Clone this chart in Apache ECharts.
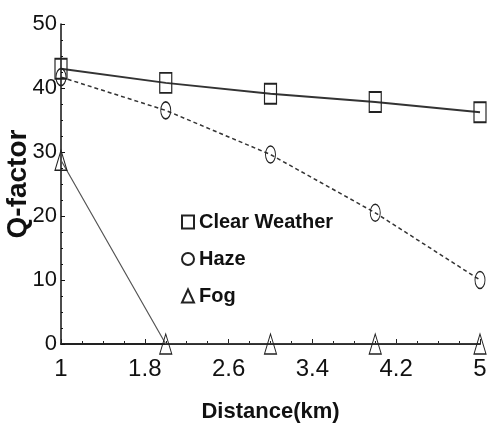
<!DOCTYPE html>
<html>
<head>
<meta charset="utf-8">
<script src="https://cdn.jsdelivr.net/npm/echarts@6/dist/echarts.min.js"></script>
<style>
html,body{margin:0;padding:0;background:#fff;}
#chart{width:488px;height:429px;}
</style>
</head>
<body>
<div id="chart"></div>
<script>
const distances = [1, 2, 3, 4, 5];
const clearWeather = [43, 40.8, 39.1, 37.8, 36.2];
const haze = [41.7, 36.5, 29.6, 20.5, 10];
const fog = [28.7, 0, 0, 0, 0];
const xTickLabels = ['1', '1.8', '2.6', '3.4', '4.2', '5'];
const yTickLabels = ['0', '10', '20', '30', '40', '50'];
const xOrigin = 1;
const xStep = 0.8;

const sans = '"Liberation Sans", Arial, sans-serif';

function pts(vals) {
  return distances.map((d, i) => [d - xOrigin, vals[i]]);
}

const chart = echarts.init(document.getElementById('chart'), null, {renderer: 'canvas'});
chart.setOption({
  animation: false,
  backgroundColor: '#fff',
  grid: {left: 61, right: 8, top: 24, bottom: 85, containLabel: false, outerBoundsMode: 'none'},
  legend: {
    orient: 'vertical',
    left: 176,
    top: 207,
    itemGap: 17,
    itemWidth: 12,
    itemHeight: 13,
    lineStyle: {opacity: 0},
    textStyle: {fontFamily: sans, fontWeight: 'bold', fontSize: 20, color: '#111'},
    data: [
      {name: 'Clear Weather', icon: 'rect'},
      {name: 'Haze', icon: 'circle'},
      {name: 'Fog', icon: 'triangle'}
    ]
  },
  xAxis: {
    type: 'value',
    min: 0,
    max: 4,
    interval: xStep,
    name: 'Distance(km)',
    nameLocation: 'middle',
    nameGap: 57,
    nameMoveOverlap: false,
    nameTextStyle: {fontFamily: sans, fontWeight: 'bold', fontSize: 22, color: '#111'},
    axisLine: {show: true, lineStyle: {color: '#222', width: 2}},
    axisTick: {show: true, inside: true, length: 5, lineStyle: {color: '#222', width: 1}},
    minorTick: {show: true, splitNumber: 4, length: 3, lineStyle: {color: '#222', width: 1}},
    splitLine: {show: false},
    axisLabel: {
      margin: 13,
      fontFamily: sans,
      fontSize: 24,
      color: '#111',
      formatter: v => xTickLabels[Math.round(v / xStep)]
    }
  },
  yAxis: {
    type: 'value',
    min: 0,
    max: 50,
    interval: 10,
    name: 'Q-factor',
    nameLocation: 'middle',
    nameGap: 29,
    nameMoveOverlap: false,
    nameRotate: 90,
    nameTextStyle: {fontFamily: sans, fontWeight: 'bold', fontSize: 28, color: '#111'},
    axisLine: {show: true, lineStyle: {color: '#111', width: 1.5}},
    axisTick: {show: true, inside: true, length: 4, lineStyle: {color: '#111', width: 1}},
    minorTick: {show: true, splitNumber: 4, length: 2, lineStyle: {color: '#111', width: 1}},
    splitLine: {show: false},
    axisLabel: {
      margin: 4,
      fontFamily: sans,
      fontSize: 22,
      color: '#111',
      formatter: v => yTickLabels[Math.round(v / 10)]
    }
  },
  series: [
    {
      name: 'Clear Weather',
      type: 'line',
      data: pts(clearWeather),
      symbol: 'rect',
      symbolSize: [12, 20],
      lineStyle: {color: '#333', width: 2, type: 'solid'},
      itemStyle: {color: 'rgba(0,0,0,0)', borderColor: '#222', borderWidth: 1.5},
      z: 3
    },
    {
      name: 'Haze',
      type: 'line',
      data: pts(haze),
      symbol: 'circle',
      symbolSize: [10, 17],
      lineStyle: {color: '#333', width: 1.5, type: [4, 3]},
      itemStyle: {color: 'rgba(0,0,0,0)', borderColor: '#222', borderWidth: 1.2},
      z: 3
    },
    {
      name: 'Fog',
      type: 'line',
      data: pts(fog),
      symbol: 'triangle',
      symbolSize: [12, 20],
      lineStyle: {color: '#555', width: 1.2, type: 'solid'},
      itemStyle: {color: 'rgba(0,0,0,0)', borderColor: '#222', borderWidth: 1.2},
      z: 3
    }
  ]
});
</script>
</body>
</html>
